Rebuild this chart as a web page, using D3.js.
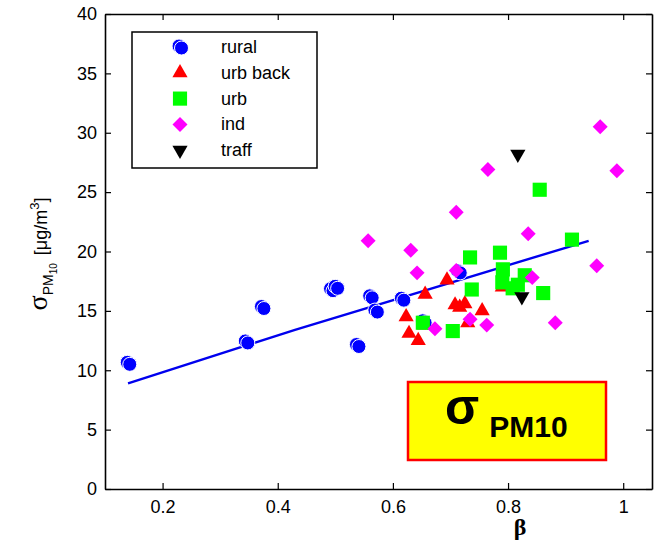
<!DOCTYPE html>
<html><head><meta charset="utf-8">
<script src="https://cdn.jsdelivr.net/npm/d3@7"></script>
<style>body{margin:0;background:#fff}svg{display:block}</style>
</head><body>
<svg id="c" width="664" height="542"></svg>
<script>
// ---- data ----
const ruralX = [0.143,0.348,0.376,0.496,0.504,0.541,0.564,0.573,0.619,0.656,0.717];
const ruralY = [10.5,12.3,15.2,16.7,16.9,12.0,16.1,14.9,15.9,14.0,18.2];
const urbBackX = [0.694,0.656,0.623,0.628,0.644,0.708,0.716,0.725,0.755,0.730,0.790,0.655];
const urbBackY = [17.6,16.4,14.5,13.1,12.5,15.5,15.3,15.6,15.0,14.0,17.0,13.8];
const urbX = [0.734,0.786,0.791,0.790,0.817,0.829,0.861,0.737,0.652,0.704,0.855,0.911,0.808];
const urbY = [19.5,19.9,18.5,17.4,17.2,18.0,16.5,16.8,14.0,13.3,25.2,21.0,16.9];
const indX = [0.557,0.631,0.642,0.673,0.710,0.710,0.734,0.763,0.765,0.835,0.842,0.882,0.954,0.960,0.989];
const indY = [20.9,20.1,18.2,13.5,23.3,18.4,14.3,13.8,26.9,21.5,17.8,14.0,18.8,30.5,26.8];
const traffX = [0.817,0.824];
const traffY = [28.2,16.2];
const fitX = [0.14,0.43,0.94];
const fitY = [8.9,13.4,20.9];
const xTicks = [0.2,0.4,0.6,0.8,1];
const yTicks = [0,5,10,15,20,25,30,35,40];
const legendLabels = ["rural","urb back","urb","ind","traff"];

// ---- layout ----
const svg = d3.select("#c");
const L = 105, R = 652, T = 14, B = 489;
const x = d3.scaleLinear().domain([0.1,1.05]).range([L,R]);
const y = d3.scaleLinear().domain([0,40]).range([B,T]);
const font = "'Liberation Sans', Arial, sans-serif";

// axes with inward ticks
const axB = svg.append("g").attr("transform",`translate(0,${B})`)
  .call(d3.axisBottom(x).tickValues(xTicks).tickFormat(d=>d===1?"1":d3.format(".1f")(d)).tickSizeInner(-6).tickSizeOuter(0).tickPadding(11));
const axT = svg.append("g").attr("transform",`translate(0,${T})`)
  .call(d3.axisTop(x).tickValues(xTicks).tickFormat("").tickSizeInner(-6).tickSizeOuter(0));
const axLft = svg.append("g").attr("transform",`translate(${L},0)`)
  .call(d3.axisLeft(y).tickValues(yTicks).tickFormat(d3.format("d")).tickSizeInner(-6).tickSizeOuter(0).tickPadding(8));
const axRt = svg.append("g").attr("transform",`translate(${R},0)`)
  .call(d3.axisRight(y).tickValues(yTicks).tickFormat("").tickSizeInner(-6).tickSizeOuter(0));
[axB,axT,axLft,axRt].forEach(a=>{
  a.selectAll("path.domain").attr("stroke","#000").attr("stroke-width",1.6);
  a.selectAll(".tick line").attr("stroke","#000").attr("stroke-width",1.2);
  a.selectAll("text").attr("font-family",font).attr("font-size",18).attr("fill","#000");
});

// fit line
svg.append("path")
  .datum(fitX.map((v,i)=>[v,fitY[i]]))
  .attr("d", d3.line().x(d=>x(d[0])).y(d=>y(d[1])))
  .attr("fill","none").attr("stroke","#0000ee").attr("stroke-width",2.4);

// marker helpers
function rural(g, cx, cy, r){
  g.append("circle").attr("cx",cx-2.5).attr("cy",cy-2).attr("r",r).attr("fill","#0000ff").attr("stroke","#fff").attr("stroke-width",1);
  g.append("circle").attr("cx",cx).attr("cy",cy).attr("r",r).attr("fill","#0000ff").attr("stroke","#fff").attr("stroke-width",1);
}
const triPath = d3.symbol().type(d3.symbolTriangle).size(100)();
const sqPath = d3.symbol().type(d3.symbolSquare).size(200)();
const diaPath = d3.symbol().type(d3.symbolSquare).size(112)();

const gm = svg.append("g");
ruralX.forEach((v,i)=>rural(gm, x(v), y(ruralY[i]), 7));
urbBackX.forEach((v,i)=>gm.append("path").attr("d",triPath).attr("fill","#ff0000")
  .attr("transform",`translate(${x(v)},${y(urbBackY[i])})`));
urbX.forEach((v,i)=>gm.append("path").attr("d",sqPath).attr("fill","#00ff00")
  .attr("transform",`translate(${x(v)},${y(urbY[i])})`));
indX.forEach((v,i)=>gm.append("path").attr("d",diaPath).attr("fill","#ff00ff")
  .attr("transform",`translate(${x(v)},${y(indY[i])}) rotate(45)`));
traffX.forEach((v,i)=>gm.append("path").attr("d",triPath).attr("fill","#000")
  .attr("transform",`translate(${x(v)},${y(traffY[i])}) rotate(180)`));

// legend
const lg = svg.append("g");
lg.append("rect").attr("x",132).attr("y",32).attr("width",185).attr("height",136)
  .attr("fill","#fff").attr("stroke","#000").attr("stroke-width",1.5);
legendLabels.forEach((lab,i)=>{
  const cy = 47 + i*25.8, mx = 180;
  if(i===0) rural(lg, mx+1.5, cy+1, 7);
  else if(i===1) lg.append("path").attr("d",triPath).attr("fill","#ff0000").attr("transform",`translate(${mx},${cy})`);
  else if(i===2) lg.append("path").attr("d",sqPath).attr("fill","#00ff00").attr("transform",`translate(${mx},${cy})`);
  else if(i===3) lg.append("path").attr("d",diaPath).attr("fill","#ff00ff").attr("transform",`translate(${mx},${cy}) rotate(45)`);
  else lg.append("path").attr("d",triPath).attr("fill","#000").attr("transform",`translate(${mx},${cy}) rotate(180)`);
  lg.append("text").attr("x",221).attr("y",cy+6).attr("font-family",font).attr("font-size",18).text(lab);
});

// text box
svg.append("rect").attr("x",408).attr("y",382).attr("width",198).attr("height",78)
  .attr("fill","#ffff00").attr("stroke","#ff0000").attr("stroke-width",2.5);
const bt = svg.append("text").attr("x",445).attr("y",424).attr("font-family",font).attr("font-weight","bold").attr("fill","#000");
bt.append("tspan").attr("font-size",50).text("σ");
bt.append("tspan").attr("font-size",30).attr("dx",10).attr("dy",13).text("PM10");

// x label
svg.append("text").attr("x",520).attr("y",535).attr("text-anchor","middle")
  .attr("font-family","'Liberation Serif', serif").attr("font-size",24).attr("font-weight","bold").text("β");

// y label
const yl = svg.append("text").attr("transform","translate(47,254) rotate(-90)")
  .attr("text-anchor","middle").attr("font-family",font).attr("font-size",18).attr("fill","#000");
yl.append("tspan").attr("font-family","'Liberation Serif', serif").attr("font-size",28).attr("dy",0).text("σ");
yl.append("tspan").attr("font-size",14).attr("dy",6).text("PM");
yl.append("tspan").attr("font-size",10).attr("dy",4).text("10");
yl.append("tspan").attr("font-size",18).attr("dy",-10).attr("dx",3).text(" [μg/m");
yl.append("tspan").attr("font-size",13).attr("dy",-8).text("3");
yl.append("tspan").attr("font-size",18).attr("dy",8).text("]");
</script>
</body></html>
